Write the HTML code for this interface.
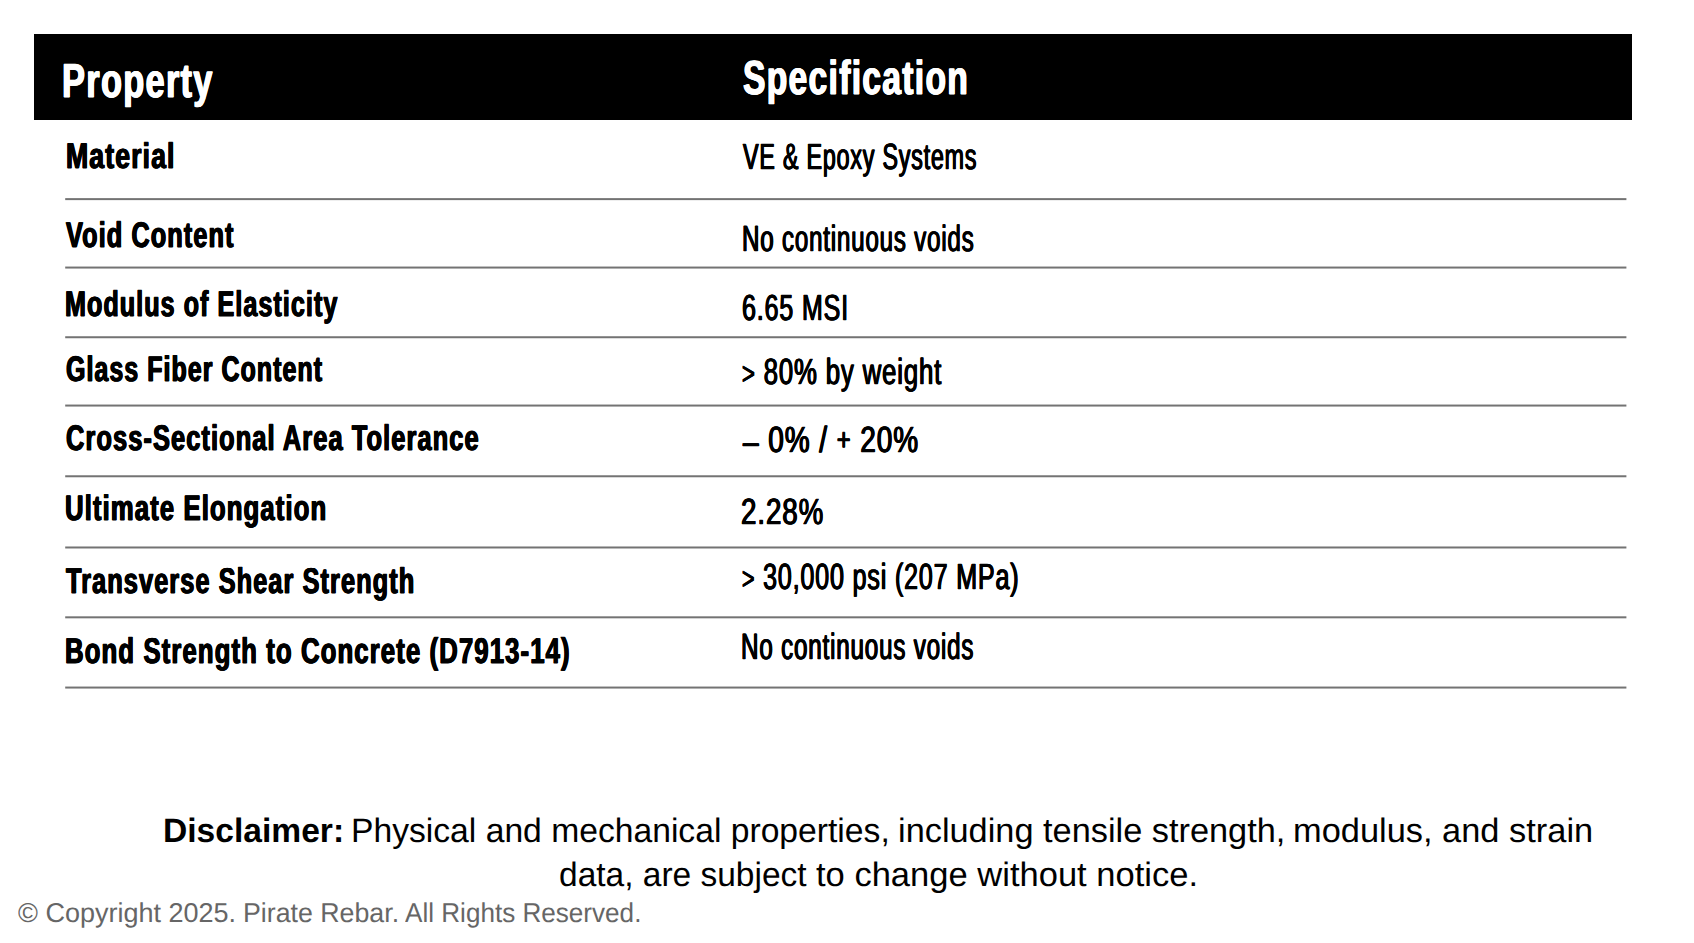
<!DOCTYPE html>
<html><head><meta charset="utf-8"><style>
html,body{margin:0;padding:0;background:#fff;width:1694px;height:943px;overflow:hidden;position:relative}
.bar{position:absolute;left:34px;top:34px;width:1598px;height:86px;background:#000}
.t{position:absolute;white-space:nowrap;font-family:"Liberation Sans",sans-serif;line-height:1;transform-origin:0 0;text-rendering:geometricPrecision}
.lns{position:absolute;left:0;top:0}
</style></head><body>
<div class="bar"></div>
<svg class="lns" width="1694" height="943"><rect x="65.2" y="198.12" width="1561.2" height="2" fill="#737373"/><rect x="65.2" y="266.55" width="1561.2" height="2" fill="#737373"/><rect x="65.2" y="336.24" width="1561.2" height="2" fill="#737373"/><rect x="65.2" y="404.55" width="1561.2" height="2" fill="#737373"/><rect x="65.2" y="475.27" width="1561.2" height="2" fill="#737373"/><rect x="65.2" y="546.48" width="1561.2" height="2" fill="#737373"/><rect x="65.2" y="616.32" width="1561.2" height="2" fill="#737373"/><rect x="65.2" y="686.55" width="1561.2" height="2" fill="#737373"/></svg>
<div class="t" style="left:62.18px;top:57.57px;font-weight:700;font-size:47.68px;color:#fff;-webkit-text-stroke:0.8px #fff;letter-spacing:1.8px;text-shadow:0.7px 0 0 #fff,-0.7px 0 0 #fff;transform:scaleX(0.7212)">Property</div>
<div class="t" style="left:742.65px;top:54.87px;font-weight:700;font-size:47.68px;color:#fff;-webkit-text-stroke:0.8px #fff;letter-spacing:1.8px;text-shadow:0.7px 0 0 #fff,-0.7px 0 0 #fff;transform:scaleX(0.7064)">Specification</div>
<div class="t" style="left:65.80px;top:139.32px;font-weight:700;font-size:35.6px;color:#000;-webkit-text-stroke:0.8px #000;letter-spacing:1.5px;text-shadow:0.6px 0 0 #000,-0.6px 0 0 #000;transform:scaleX(0.7482)">Material</div>
<div class="t" style="left:66.46px;top:218.37px;font-weight:700;font-size:35.53px;color:#000;-webkit-text-stroke:0.8px #000;letter-spacing:1.5px;text-shadow:0.6px 0 0 #000,-0.6px 0 0 #000;transform:scaleX(0.7133)">Void Content</div>
<div class="t" style="left:65.27px;top:286.97px;font-weight:700;font-size:35.67px;color:#000;-webkit-text-stroke:0.8px #000;letter-spacing:1.5px;text-shadow:0.6px 0 0 #000,-0.6px 0 0 #000;transform:scaleX(0.7045)">Modulus of Elasticity</div>
<div class="t" style="left:65.93px;top:352.27px;font-weight:700;font-size:35.45px;color:#000;-webkit-text-stroke:0.8px #000;letter-spacing:1.5px;text-shadow:0.6px 0 0 #000,-0.6px 0 0 #000;transform:scaleX(0.7040)">Glass Fiber Content</div>
<div class="t" style="left:65.62px;top:421.07px;font-weight:700;font-size:35.53px;color:#000;-webkit-text-stroke:0.8px #000;letter-spacing:1.5px;text-shadow:0.6px 0 0 #000,-0.6px 0 0 #000;transform:scaleX(0.7158)">Cross-Sectional Area Tolerance</div>
<div class="t" style="left:65.12px;top:491.47px;font-weight:700;font-size:35.45px;color:#000;-webkit-text-stroke:0.8px #000;letter-spacing:1.5px;text-shadow:0.6px 0 0 #000,-0.6px 0 0 #000;transform:scaleX(0.7260)">Ultimate Elongation</div>
<div class="t" style="left:66.37px;top:564.17px;font-weight:700;font-size:35.74px;color:#000;-webkit-text-stroke:0.8px #000;letter-spacing:1.5px;text-shadow:0.6px 0 0 #000,-0.6px 0 0 #000;transform:scaleX(0.7095)">Transverse Shear Strength</div>
<div class="t" style="left:64.94px;top:634.17px;font-weight:700;font-size:35.74px;color:#000;-webkit-text-stroke:0.8px #000;letter-spacing:1.5px;text-shadow:0.6px 0 0 #000,-0.6px 0 0 #000;transform:scaleX(0.7211)">Bond Strength to Concrete (D7913-14)</div>
<div class="t" style="left:743.19px;top:138.90px;font-weight:400;font-size:36.36px;color:#000;-webkit-text-stroke:0.7px #000;letter-spacing:1.2px;text-shadow:0.6px 0 0 #000,-0.6px 0 0 #000;transform:scaleX(0.6416)">VE &amp; Epoxy Systems</div>
<div class="t" style="left:741.85px;top:221.15px;font-weight:400;font-size:36.45px;color:#000;-webkit-text-stroke:0.7px #000;letter-spacing:1.2px;text-shadow:0.6px 0 0 #000,-0.6px 0 0 #000;transform:scaleX(0.6626)">No continuous voids</div>
<div class="t" style="left:742.14px;top:290.15px;font-weight:400;font-size:36.19px;color:#000;-webkit-text-stroke:0.7px #000;letter-spacing:1.2px;text-shadow:0.6px 0 0 #000,-0.6px 0 0 #000;transform:scaleX(0.6928)">6.65 MSI</div>
<div class="t" style="left:742.20px;top:354.35px;font-weight:400;font-size:36.36px;color:#000;-webkit-text-stroke:0.7px #000;letter-spacing:1.2px;text-shadow:0.6px 0 0 #000,-0.6px 0 0 #000;transform:scaleX(0.7082)"><span class="sm" style="font-size:85%">&gt;</span> 80% by weight</div>
<div class="t" style="left:742.59px;top:422.45px;font-weight:400;font-size:36.36px;color:#000;-webkit-text-stroke:0.7px #000;letter-spacing:1.2px;text-shadow:0.6px 0 0 #000,-0.6px 0 0 #000;transform:scaleX(0.7709)"><span style="position:relative;top:1.5px">&ndash;</span> 0% / <span style="font-size:85%;position:relative;top:-2.5px">+</span> 20%</div>
<div class="t" style="left:741.37px;top:493.65px;font-weight:400;font-size:36.36px;color:#000;-webkit-text-stroke:0.7px #000;letter-spacing:1.2px;text-shadow:0.6px 0 0 #000,-0.6px 0 0 #000;transform:scaleX(0.7627)">2.28%</div>
<div class="t" style="left:741.71px;top:559.35px;font-weight:400;font-size:36.36px;color:#000;-webkit-text-stroke:0.7px #000;letter-spacing:1.2px;text-shadow:0.6px 0 0 #000,-0.6px 0 0 #000;transform:scaleX(0.6899)"><span class="sm" style="font-size:85%">&gt;</span> 30,000 psi (207 MPa)</div>
<div class="t" style="left:740.73px;top:628.65px;font-weight:400;font-size:36.54px;color:#000;-webkit-text-stroke:0.7px #000;letter-spacing:1.2px;text-shadow:0.6px 0 0 #000,-0.6px 0 0 #000;transform:scaleX(0.6631)">No continuous voids</div>
<div class="t" style="left:163.05px;top:815.20px;font-weight:700;font-size:33.87px;color:#000;transform:scaleX(0.9921)">Disclaimer:</div>
<div class="t" style="left:351.15px;top:815.20px;font-weight:400;font-size:33.87px;color:#000;transform:scaleX(0.9939)">Physical and mechanical properties,</div>
<div class="t" style="left:897.71px;top:815.20px;font-weight:400;font-size:33.87px;color:#000;transform:scaleX(1.0138)">including tensile strength,</div>
<div class="t" style="left:1292.90px;top:815.20px;font-weight:400;font-size:33.87px;color:#000;transform:scaleX(1.0158)">modulus, and strain</div>
<div class="t" style="left:559.44px;top:859.10px;font-weight:400;font-size:33.87px;color:#000;transform:scaleX(0.9891)">data, are subject</div>
<div class="t" style="left:815.65px;top:859.10px;font-weight:400;font-size:33.87px;color:#000;transform:scaleX(1.0199)">to change without notice.</div>
<div class="t" style="left:18.43px;top:899.10px;font-weight:400;font-size:27.18px;color:#666;transform:scaleX(0.9940)">&copy; Copyright 2025.</div>
<div class="t" style="left:242.87px;top:899.10px;font-weight:400;font-size:27.18px;color:#666;transform:scaleX(0.9841)">Pirate Rebar.</div>
<div class="t" style="left:405.23px;top:899.10px;font-weight:400;font-size:27.18px;color:#666;transform:scaleX(0.9603)">All Rights Reserved.</div>
</body></html>
